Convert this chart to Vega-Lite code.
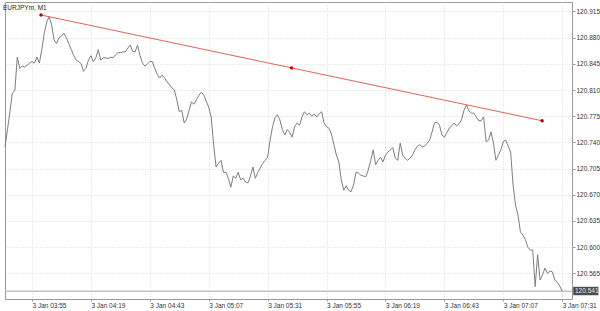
{
  "$schema": "https://vega.github.io/schema/vega-lite/v6.json",
  "width": 567,
  "height": 297,
  "padding": {"left": 3, "top": 2, "right": 0, "bottom": 0},
  "background": "white",
  "title": {"text": "EURJPYm, M1", "anchor": "start", "frame": "group", "offset": -9, "fontSize": 6.5, "font": "Liberation Sans", "fontWeight": "normal", "color": "#222222", "dx": -2},
  "config": {
    "view": {"stroke": "#9a9a9a", "strokeWidth": 1},
    "axis": {"labelFont": "Liberation Sans", "labelFontSize": 6.5, "labelColor": "#333333", "tickColor": "#999999", "gridColor": "#d6d6d6", "gridDash": [1, 2], "domain": false, "title": null, "labelOverlap": false, "labelFlush": false}
  },
  "datasets": {
    "price": [
      {"t":"2019-01-03T03:44Z","p":120.734},{"t":"2019-01-03T03:45Z","p":120.757},{"t":"2019-01-03T03:46Z","p":120.781},{"t":"2019-01-03T03:47Z","p":120.806},{"t":"2019-01-03T03:48Z","p":120.809},{"t":"2019-01-03T03:49Z","p":120.854},{"t":"2019-01-03T03:50Z","p":120.839},{"t":"2019-01-03T03:51Z","p":120.842},{"t":"2019-01-03T03:52Z","p":120.841},{"t":"2019-01-03T03:53Z","p":120.843},{"t":"2019-01-03T03:54Z","p":120.846},{"t":"2019-01-03T03:55Z","p":120.848},{"t":"2019-01-03T03:56Z","p":120.846},{"t":"2019-01-03T03:57Z","p":120.854},{"t":"2019-01-03T03:58Z","p":120.846},{"t":"2019-01-03T03:59Z","p":120.864},
      {"t":"2019-01-03T04:00Z","p":120.886},{"t":"2019-01-03T04:01Z","p":120.901},{"t":"2019-01-03T04:02Z","p":120.908},{"t":"2019-01-03T04:03Z","p":120.897},{"t":"2019-01-03T04:04Z","p":120.877},{"t":"2019-01-03T04:05Z","p":120.872},{"t":"2019-01-03T04:06Z","p":120.880},{"t":"2019-01-03T04:07Z","p":120.882},{"t":"2019-01-03T04:08Z","p":120.886},{"t":"2019-01-03T04:09Z","p":120.880},{"t":"2019-01-03T04:10Z","p":120.872},{"t":"2019-01-03T04:11Z","p":120.864},{"t":"2019-01-03T04:12Z","p":120.856},{"t":"2019-01-03T04:13Z","p":120.850},{"t":"2019-01-03T04:14Z","p":120.848},{"t":"2019-01-03T04:15Z","p":120.845},{"t":"2019-01-03T04:16Z","p":120.835},{"t":"2019-01-03T04:17Z","p":120.839},{"t":"2019-01-03T04:18Z","p":120.850},{"t":"2019-01-03T04:19Z","p":120.856},{"t":"2019-01-03T04:20Z","p":120.848},{"t":"2019-01-03T04:21Z","p":120.853},{"t":"2019-01-03T04:22Z","p":120.864},{"t":"2019-01-03T04:23Z","p":120.850},{"t":"2019-01-03T04:24Z","p":120.853},{"t":"2019-01-03T04:25Z","p":120.853},{"t":"2019-01-03T04:26Z","p":120.852},{"t":"2019-01-03T04:27Z","p":120.854},{"t":"2019-01-03T04:28Z","p":120.853},{"t":"2019-01-03T04:29Z","p":120.857},{"t":"2019-01-03T04:30Z","p":120.860},{"t":"2019-01-03T04:31Z","p":120.860},{"t":"2019-01-03T04:32Z","p":120.861},{"t":"2019-01-03T04:33Z","p":120.861},{"t":"2019-01-03T04:34Z","p":120.866},{"t":"2019-01-03T04:35Z","p":120.870},{"t":"2019-01-03T04:36Z","p":120.862},{"t":"2019-01-03T04:37Z","p":120.861},{"t":"2019-01-03T04:38Z","p":120.870},{"t":"2019-01-03T04:39Z","p":120.856},{"t":"2019-01-03T04:40Z","p":120.846},{"t":"2019-01-03T04:41Z","p":120.842},{"t":"2019-01-03T04:42Z","p":120.845},{"t":"2019-01-03T04:43Z","p":120.848},{"t":"2019-01-03T04:44Z","p":120.848},{"t":"2019-01-03T04:45Z","p":120.839},{"t":"2019-01-03T04:46Z","p":120.831},{"t":"2019-01-03T04:47Z","p":120.826},{"t":"2019-01-03T04:48Z","p":120.830},{"t":"2019-01-03T04:49Z","p":120.826},{"t":"2019-01-03T04:50Z","p":120.821},{"t":"2019-01-03T04:51Z","p":120.817},{"t":"2019-01-03T04:52Z","p":120.813},{"t":"2019-01-03T04:53Z","p":120.810},{"t":"2019-01-03T04:54Z","p":120.797},{"t":"2019-01-03T04:55Z","p":120.781},{"t":"2019-01-03T04:56Z","p":120.783},{"t":"2019-01-03T04:57Z","p":120.766},{"t":"2019-01-03T04:58Z","p":120.771},{"t":"2019-01-03T04:59Z","p":120.783},
      {"t":"2019-01-03T05:00Z","p":120.794},{"t":"2019-01-03T05:01Z","p":120.791},{"t":"2019-01-03T05:02Z","p":120.797},{"t":"2019-01-03T05:03Z","p":120.803},{"t":"2019-01-03T05:04Z","p":120.807},{"t":"2019-01-03T05:05Z","p":120.803},{"t":"2019-01-03T05:06Z","p":120.795},{"t":"2019-01-03T05:07Z","p":120.787},{"t":"2019-01-03T05:08Z","p":120.774},{"t":"2019-01-03T05:09Z","p":120.737},{"t":"2019-01-03T05:10Z","p":120.707},{"t":"2019-01-03T05:11Z","p":120.712},{"t":"2019-01-03T05:12Z","p":120.716},{"t":"2019-01-03T05:13Z","p":120.700},{"t":"2019-01-03T05:14Z","p":120.700},{"t":"2019-01-03T05:15Z","p":120.692},{"t":"2019-01-03T05:16Z","p":120.680},{"t":"2019-01-03T05:17Z","p":120.695},{"t":"2019-01-03T05:18Z","p":120.692},{"t":"2019-01-03T05:19Z","p":120.700},{"t":"2019-01-03T05:20Z","p":120.690},{"t":"2019-01-03T05:21Z","p":120.692},{"t":"2019-01-03T05:22Z","p":120.687},{"t":"2019-01-03T05:23Z","p":120.686},{"t":"2019-01-03T05:24Z","p":120.695},{"t":"2019-01-03T05:25Z","p":120.707},{"t":"2019-01-03T05:26Z","p":120.692},{"t":"2019-01-03T05:27Z","p":120.700},{"t":"2019-01-03T05:28Z","p":120.706},{"t":"2019-01-03T05:29Z","p":120.712},{"t":"2019-01-03T05:30Z","p":120.716},{"t":"2019-01-03T05:31Z","p":120.720},{"t":"2019-01-03T05:32Z","p":120.743},{"t":"2019-01-03T05:33Z","p":120.761},{"t":"2019-01-03T05:34Z","p":120.773},{"t":"2019-01-03T05:35Z","p":120.777},{"t":"2019-01-03T05:36Z","p":120.770},{"t":"2019-01-03T05:37Z","p":120.757},{"t":"2019-01-03T05:38Z","p":120.750},{"t":"2019-01-03T05:39Z","p":120.757},{"t":"2019-01-03T05:40Z","p":120.753},{"t":"2019-01-03T05:41Z","p":120.747},{"t":"2019-01-03T05:42Z","p":120.761},{"t":"2019-01-03T05:43Z","p":120.766},{"t":"2019-01-03T05:44Z","p":120.763},{"t":"2019-01-03T05:45Z","p":120.774},{"t":"2019-01-03T05:46Z","p":120.781},{"t":"2019-01-03T05:47Z","p":120.777},{"t":"2019-01-03T05:48Z","p":120.779},{"t":"2019-01-03T05:49Z","p":120.775},{"t":"2019-01-03T05:50Z","p":120.778},{"t":"2019-01-03T05:51Z","p":120.774},{"t":"2019-01-03T05:52Z","p":120.778},{"t":"2019-01-03T05:53Z","p":120.781},{"t":"2019-01-03T05:54Z","p":120.766},{"t":"2019-01-03T05:55Z","p":120.761},{"t":"2019-01-03T05:56Z","p":120.759},{"t":"2019-01-03T05:57Z","p":120.751},{"t":"2019-01-03T05:58Z","p":120.737},{"t":"2019-01-03T05:59Z","p":120.723},
      {"t":"2019-01-03T06:00Z","p":120.714},{"t":"2019-01-03T06:01Z","p":120.690},{"t":"2019-01-03T06:02Z","p":120.676},{"t":"2019-01-03T06:03Z","p":120.682},{"t":"2019-01-03T06:04Z","p":120.676},{"t":"2019-01-03T06:05Z","p":120.674},{"t":"2019-01-03T06:06Z","p":120.683},{"t":"2019-01-03T06:07Z","p":120.700},{"t":"2019-01-03T06:08Z","p":120.699},{"t":"2019-01-03T06:09Z","p":120.696},{"t":"2019-01-03T06:10Z","p":120.695},{"t":"2019-01-03T06:11Z","p":120.694},{"t":"2019-01-03T06:12Z","p":120.703},{"t":"2019-01-03T06:13Z","p":120.716},{"t":"2019-01-03T06:14Z","p":120.730},{"t":"2019-01-03T06:15Z","p":120.710},{"t":"2019-01-03T06:16Z","p":120.716},{"t":"2019-01-03T06:17Z","p":120.720},{"t":"2019-01-03T06:18Z","p":120.714},{"t":"2019-01-03T06:19Z","p":120.723},{"t":"2019-01-03T06:20Z","p":120.727},{"t":"2019-01-03T06:21Z","p":120.730},{"t":"2019-01-03T06:22Z","p":120.733},{"t":"2019-01-03T06:23Z","p":120.719},{"t":"2019-01-03T06:24Z","p":120.716},{"t":"2019-01-03T06:25Z","p":120.739},{"t":"2019-01-03T06:26Z","p":120.723},{"t":"2019-01-03T06:27Z","p":120.719},{"t":"2019-01-03T06:28Z","p":120.716},{"t":"2019-01-03T06:29Z","p":120.719},{"t":"2019-01-03T06:30Z","p":120.723},{"t":"2019-01-03T06:31Z","p":120.730},{"t":"2019-01-03T06:32Z","p":120.735},{"t":"2019-01-03T06:33Z","p":120.737},{"t":"2019-01-03T06:34Z","p":120.734},{"t":"2019-01-03T06:35Z","p":120.735},{"t":"2019-01-03T06:36Z","p":120.739},{"t":"2019-01-03T06:37Z","p":120.743},{"t":"2019-01-03T06:38Z","p":120.754},{"t":"2019-01-03T06:39Z","p":120.766},{"t":"2019-01-03T06:40Z","p":120.767},{"t":"2019-01-03T06:41Z","p":120.763},{"t":"2019-01-03T06:42Z","p":120.750},{"t":"2019-01-03T06:43Z","p":120.747},{"t":"2019-01-03T06:44Z","p":120.753},{"t":"2019-01-03T06:45Z","p":120.759},{"t":"2019-01-03T06:46Z","p":120.762},{"t":"2019-01-03T06:47Z","p":120.766},{"t":"2019-01-03T06:48Z","p":120.762},{"t":"2019-01-03T06:49Z","p":120.765},{"t":"2019-01-03T06:50Z","p":120.770},{"t":"2019-01-03T06:51Z","p":120.783},{"t":"2019-01-03T06:52Z","p":120.790},{"t":"2019-01-03T06:53Z","p":120.782},{"t":"2019-01-03T06:54Z","p":120.779},{"t":"2019-01-03T06:55Z","p":120.779},{"t":"2019-01-03T06:56Z","p":120.774},{"t":"2019-01-03T06:57Z","p":120.769},{"t":"2019-01-03T06:58Z","p":120.769},{"t":"2019-01-03T06:59Z","p":120.774},
      {"t":"2019-01-03T07:00Z","p":120.741},{"t":"2019-01-03T07:01Z","p":120.743},{"t":"2019-01-03T07:02Z","p":120.754},{"t":"2019-01-03T07:03Z","p":120.739},{"t":"2019-01-03T07:04Z","p":120.716},{"t":"2019-01-03T07:05Z","p":120.723},{"t":"2019-01-03T07:06Z","p":120.730},{"t":"2019-01-03T07:07Z","p":120.741},{"t":"2019-01-03T07:08Z","p":120.743},{"t":"2019-01-03T07:09Z","p":120.735},{"t":"2019-01-03T07:10Z","p":120.727},{"t":"2019-01-03T07:11Z","p":120.683},{"t":"2019-01-03T07:12Z","p":120.656},{"t":"2019-01-03T07:13Z","p":120.643},{"t":"2019-01-03T07:14Z","p":120.620},{"t":"2019-01-03T07:15Z","p":120.616},{"t":"2019-01-03T07:16Z","p":120.610},{"t":"2019-01-03T07:17Z","p":120.600},{"t":"2019-01-03T07:18Z","p":120.596},{"t":"2019-01-03T07:19Z","p":120.596},{"t":"2019-01-03T07:20Z","p":120.547},{"t":"2019-01-03T07:21Z","p":120.590},{"t":"2019-01-03T07:22Z","p":120.556},{"t":"2019-01-03T07:23Z","p":120.563},{"t":"2019-01-03T07:24Z","p":120.572},{"t":"2019-01-03T07:25Z","p":120.565},{"t":"2019-01-03T07:26Z","p":120.568},{"t":"2019-01-03T07:27Z","p":120.567},{"t":"2019-01-03T07:28Z","p":120.556},{"t":"2019-01-03T07:29Z","p":120.553},{"t":"2019-01-03T07:30Z","p":120.548},{"t":"2019-01-03T07:31Z","p":120.541}
    ],
    "trend": [
      {"t":"2019-01-03T03:58:40Z","p":120.9103},
      {"t":"2019-01-03T05:40:45Z","p":120.8396},
      {"t":"2019-01-03T07:22:50Z","p":120.7689}
    ],
    "bid": [
      {"t":"2019-01-03T07:35Z","p":120.541}
    ]
  },
  "layer": [
    {
      "data": {"name": "bid"},
      "mark": {"type": "rule", "color": "#c2c2c2", "strokeWidth": 1.5},
      "encoding": {
        "y": {"field": "p", "type": "quantitative", "scale": {"domain": [120.5306, 120.9277], "zero": false, "nice": false},
          "axis": {"orient": "right", "values": [120.565, 120.6, 120.635, 120.67, 120.705, 120.74, 120.775, 120.81, 120.845, 120.88, 120.915], "tickCount": 30, "format": ".3f", "tickSize": 3, "labelPadding": 1, "grid": true, "labelBaseline": "middle", "labelOverlap": false}}
      }
    },
    {
      "data": {"name": "price"},
      "mark": {"type": "line", "color": "#7d7d7d", "strokeWidth": 1},
      "encoding": {
        "x": {"field": "t", "type": "temporal", "scale": {"type": "utc", "domain": [1546487040000, 1546500900000], "nice": false},
          "axis": {"values": [1546487700000, 1546489140000, 1546490580000, 1546492020000, 1546493460000, 1546494900000, 1546496340000, 1546497780000, 1546499220000, 1546500660000], "tickCount": 30, "format": "3 Jan %H:%M", "labelAlign": "left", "tickSize": 2, "labelPadding": 1, "grid": true, "labelOverlap": false}},
        "y": {"field": "p", "type": "quantitative"}
      }
    },
    {
      "data": {"name": "trend"},
      "mark": {"type": "line", "color": "#e06355", "strokeWidth": 1},
      "encoding": {
        "x": {"field": "t", "type": "temporal"},
        "y": {"field": "p", "type": "quantitative"}
      }
    },
    {
      "data": {"name": "trend"},
      "mark": {"type": "point", "filled": true, "color": "#c00000", "size": 12, "opacity": 1},
      "encoding": {
        "x": {"field": "t", "type": "temporal"},
        "y": {"field": "p", "type": "quantitative"}
      }
    },
    {
      "data": {"name": "bid"},
      "mark": {"type": "point", "filled": true, "color": "#4d4d4d", "size": 64, "opacity": 1, "shape": "M0.3,-1.1H6.6V1H0.3Z"},
      "encoding": {
        "x": {"field": "t", "type": "temporal"},
        "y": {"field": "p", "type": "quantitative"}
      }
    },
    {
      "data": {"name": "bid"},
      "mark": {"type": "text", "align": "left", "baseline": "middle", "dx": 3, "font": "Liberation Sans", "fontSize": 6.5, "color": "#e6e6e6"},
      "encoding": {
        "x": {"field": "t", "type": "temporal"},
        "y": {"field": "p", "type": "quantitative"},
        "text": {"field": "p", "type": "quantitative", "format": ".3f"}
      }
    }
  ]
}
